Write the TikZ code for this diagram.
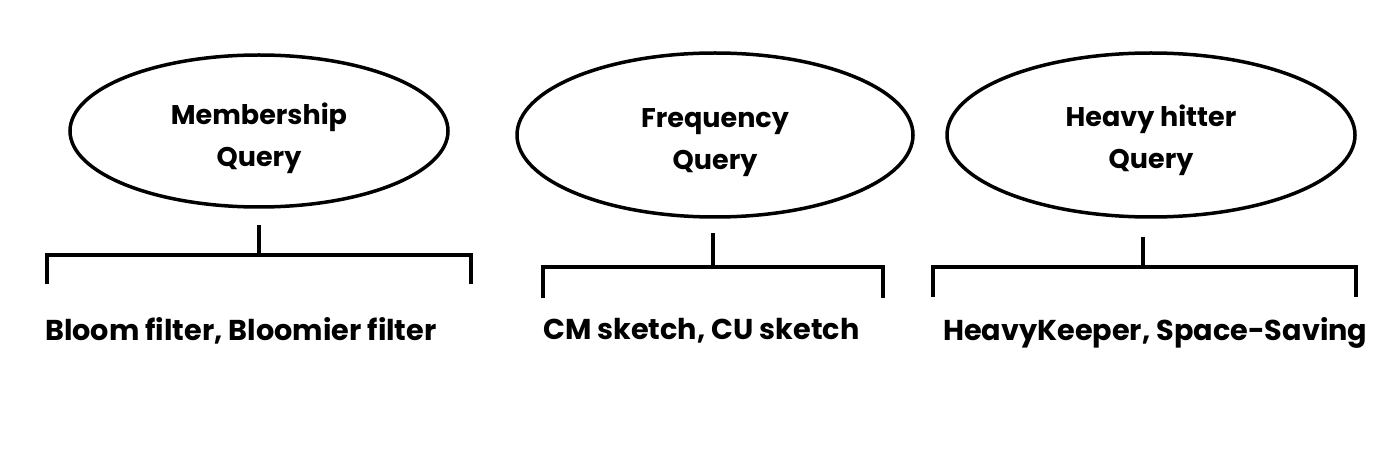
\documentclass[tikz,border=0pt]{standalone}
\usepackage{fontspec}
\setmainfont{Poppins}
\usetikzlibrary{shapes.geometric}
\begin{document}
\begin{tikzpicture}[x=1pt,y=-1pt,
  qry/.style={draw,line width=3.5pt,ellipse,inner sep=0pt},
  qtxt/.style={inner sep=0pt,align=center,
    font=\fontsize{27}{42}\selectfont\bfseries},
  lbl/.style={anchor=base west,inner sep=0pt,font=\fontsize{28.7}{34}\selectfont\bfseries},
  br/.style={line width=3.5pt}]
\useasboundingbox[fill=white] (0,0) rectangle (1388,454);
% ellipses
\node[qry,minimum width=378pt,minimum height=152pt] (q1) at (259,131) {};
\node[qry,minimum width=396pt,minimum height=164pt] (q2) at (715,135) {};
\node[qry,minimum width=408pt,minimum height=164pt] (q3) at (1151,135) {};
\node[qtxt] (q1t) at (259,138) {Membership\\Query};
\node[qtxt] (q2t) at (715,143) {Frequency\\Query};
\node[qtxt] (q3t) at (1151,140) {Heavy hitter\\Query};
% bracket 1
\coordinate (s1) at (259,225);
\coordinate (m1) at (259,255);
\coordinate (l1t) at (47,255);
\coordinate (l1b) at (47,284);
\coordinate (r1t) at (471,255);
\coordinate (r1b) at (471,284);
\draw[br] (s1) -- (m1);
\draw[br] (l1b) -- (l1t) -- (r1t) -- (r1b);
% bracket 2
\coordinate (s2) at (713,233);
\coordinate (m2) at (713,267);
\coordinate (l2t) at (543,267);
\coordinate (l2b) at (543,298);
\coordinate (r2t) at (883,267);
\coordinate (r2b) at (883,298);
\draw[br] (s2) -- (m2);
\draw[br] (l2b) -- (l2t) -- (r2t) -- (r2b);
% bracket 3
\coordinate (s3) at (1143,237);
\coordinate (m3) at (1143,267);
\coordinate (l3t) at (933,267);
\coordinate (l3b) at (933,297);
\coordinate (r3t) at (1356,267);
\coordinate (r3b) at (1356,297);
\draw[br] (s3) -- (m3);
\draw[br] (l3b) -- (l3t) -- (r3t) -- (r3b);
% labels
\node[lbl] (t1) at (45,340) {Bloom filter, Bloomier filter};
\node[lbl] (t2) at (543,339) {CM sketch, CU sketch};
\node[lbl] (t3) at (943,340) {HeavyKeeper, Space-Saving};
\end{tikzpicture}
\end{document}
